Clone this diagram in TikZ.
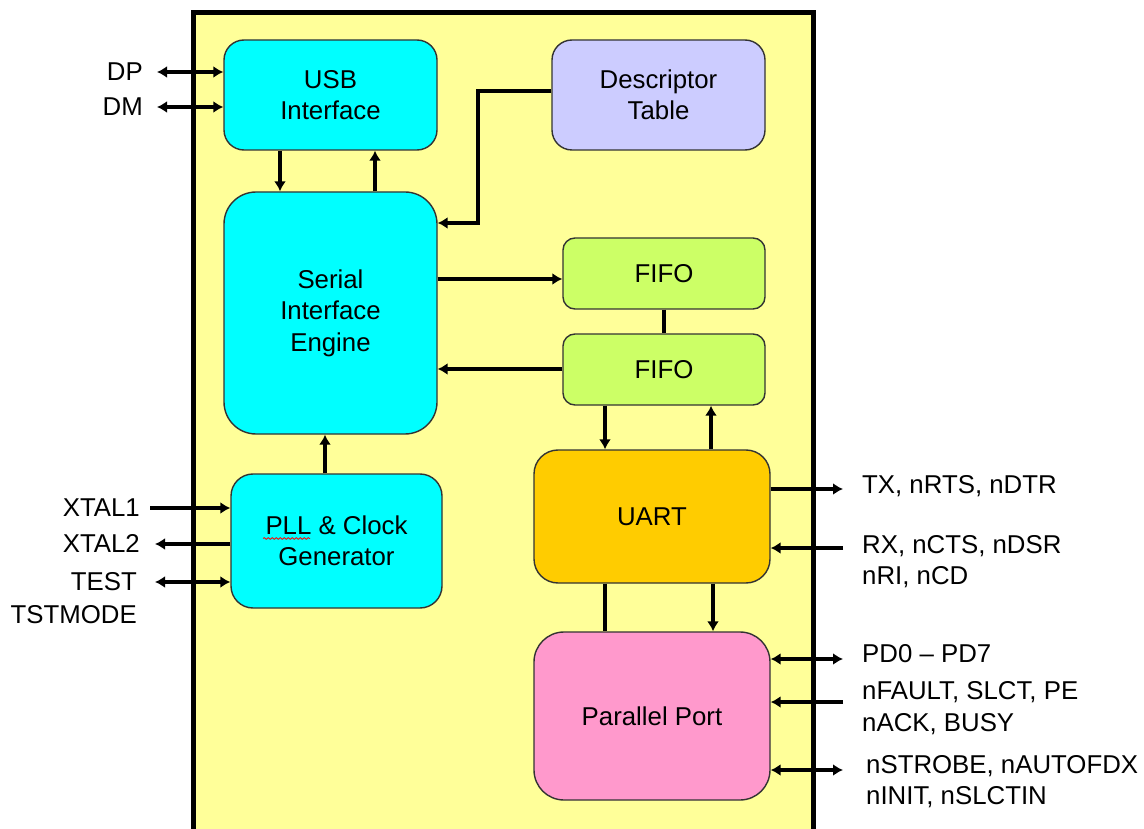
\documentclass[tikz,border=0pt]{standalone}
\usepackage{fontspec}
\setmainfont{Liberation Sans}
\usetikzlibrary{arrows.meta,decorations.pathmorphing}
\definecolor{bgyellow}{HTML}{FFFF99}
\definecolor{cyanbox}{HTML}{00FFFF}
\definecolor{lavbox}{HTML}{CCCCFF}
\definecolor{greenbox}{HTML}{CCFF66}
\definecolor{orangebox}{HTML}{FFCC00}
\definecolor{pinkbox}{HTML}{FF99CC}
\tikzset{
  blk/.style={draw=black!80, line width=1.4pt, align=center, inner sep=0pt,
    font=\fontsize{25.8}{31.5}\selectfont},
  lbl/.style={font=\fontsize{25.8}{31}\selectfont, inner sep=0pt, align=left},
  conn/.style={line width=3.2pt},
  arr/.style={conn, -{Latex[length=10pt,width=12pt]}},
  barr/.style={conn, {Latex[length=10pt,width=12pt]}-{Latex[length=10pt,width=12pt]}},
}
\begin{document}
\begin{tikzpicture}[x=1pt,y=-1pt]
\useasboundingbox (0,0) rectangle (1144,829);
\clip (0,0) rectangle (1144,829);
% outer chip
\fill[bgyellow] (193,13) rectangle (813,850);
\draw[line width=5pt] (193,850) -- (193,13) -- (813,13) -- (813,850);

% blocks
\node[blk, fill=cyanbox, rounded corners=20pt, minimum width=213pt, minimum height=110pt] (usb) at (330.5,95) {USB\\Interface};
\node[blk, fill=lavbox, rounded corners=20pt, minimum width=213pt, minimum height=110pt] (desc) at (658.5,95) {Descriptor\\Table};
\node[blk, fill=cyanbox, rounded corners=32pt, minimum width=213pt, minimum height=242pt] (sie) at (330.5,313) {Serial\\Interface\\Engine};
\node[blk, fill=greenbox, rounded corners=12pt, minimum width=202pt, minimum height=71pt] (fifoa) at (664,273.5) {FIFO};
\node[blk, fill=greenbox, rounded corners=12pt, minimum width=202pt, minimum height=71pt] (fifob) at (664,369.5) {FIFO};
\node[blk, fill=cyanbox, rounded corners=22pt, minimum width=211pt, minimum height=134pt] (pll) at (336.5,541) {PLL \& Clock\\Generator};
\node[blk, fill=orangebox, rounded corners=24pt, minimum width=236pt, minimum height=133pt] (uart) at (652,516.5) {UART};
\node[blk, fill=pinkbox, rounded corners=30pt, minimum width=236pt, minimum height=168pt] (pp) at (652,716) {Parallel Port};

% spell-check squiggle under PLL
\draw[red, line width=0.8pt, decorate, decoration={snake, amplitude=0.9pt, segment length=4pt}] (263,538.5) -- (310,538.5);

% left labels
\node[lbl, anchor=east] (ldp) at (143,72) {DP};
\node[lbl, anchor=east] (ldm) at (143,107) {DM};
\node[lbl, anchor=east] (lx1) at (140,508) {XTAL1};
\node[lbl, anchor=east] (lx2) at (140,543) {XTAL2};
\node[lbl, anchor=east] (ltest) at (137,582) {TEST};
\node[lbl, anchor=east] (ltst) at (137,615) {TSTMODE};

% right labels
\node[lbl, anchor=west] (ltx) at (862,486) {TX, nRTS, nDTR};
\node[lbl, anchor=west] (lrx) at (862,546) {RX, nCTS, nDSR};
\node[lbl, anchor=west] (lri) at (862,577) {nRI, nCD};
\node[lbl, anchor=west] (lpd) at (862,654) {PD0 -- PD7};
\node[lbl, anchor=west] (lfault) at (862,692) {nFAULT, SLCT, PE};
\node[lbl, anchor=west] (lack) at (862,724) {nACK, BUSY};
\node[lbl, anchor=west] (lstrobe) at (866,766) {nSTROBE, nAUTOFDX};
\node[lbl, anchor=west] (linit) at (866,797) {nINIT, nSLCTIN};

% free ends
\coordinate (dpE) at (157,72);
\coordinate (dmE) at (157,107);
\coordinate (x1E) at (150,508);
\coordinate (x2E) at (155,544);
\coordinate (testE) at (155,582);
\coordinate (txE) at (843,489);
\coordinate (rxE) at (843,548);
\coordinate (pdE) at (843,659);
\coordinate (faultE) at (843,702);
\coordinate (strobeE) at (843,770);

% connectors
\draw[barr] (dpE) -- (dpE -| usb.west);
\draw[barr] (dmE) -- (dmE -| usb.west);
\draw[arr] (usb.south -| 280,0) -- (sie.north -| 280,0);
\draw[arr] (sie.north -| 375,0) -- (usb.south -| 375,0);
\draw[arr] (desc.west |- 0,91) -- (478,91) |- (sie.east |- 0,223);
\draw[arr] (sie.east |- 0,279) -- (fifoa.west |- 0,279);
\draw[conn] (fifoa.south) -- (fifob.north);
\draw[arr] (fifob.west |- 0,369) -- (sie.east |- 0,369);
\draw[arr] (fifob.south -| 605,0) -- (uart.north -| 605,0);
\draw[arr] (uart.north -| 711,0) -- (fifob.south -| 711,0);
\draw[arr] (pll.north -| 325,0) -- (sie.south -| 325,0);
\draw[arr] (x1E) -- (x1E -| pll.west);
\draw[arr] (x2E -| pll.west) -- (x2E);
\draw[barr] (testE) -- (testE -| pll.west);
\draw[arr] (txE -| uart.east) -- (txE);
\draw[arr] (rxE) -- (rxE -| uart.east);
\draw[conn] (uart.south -| 605,0) -- (pp.north -| 605,0);
\draw[arr] (uart.south -| 713,0) -- (pp.north -| 713,0);
\draw[barr] (pdE -| pp.east) -- (pdE);
\draw[arr] (faultE) -- (faultE -| pp.east);
\draw[barr] (strobeE -| pp.east) -- (strobeE);
\end{tikzpicture}
\end{document}
